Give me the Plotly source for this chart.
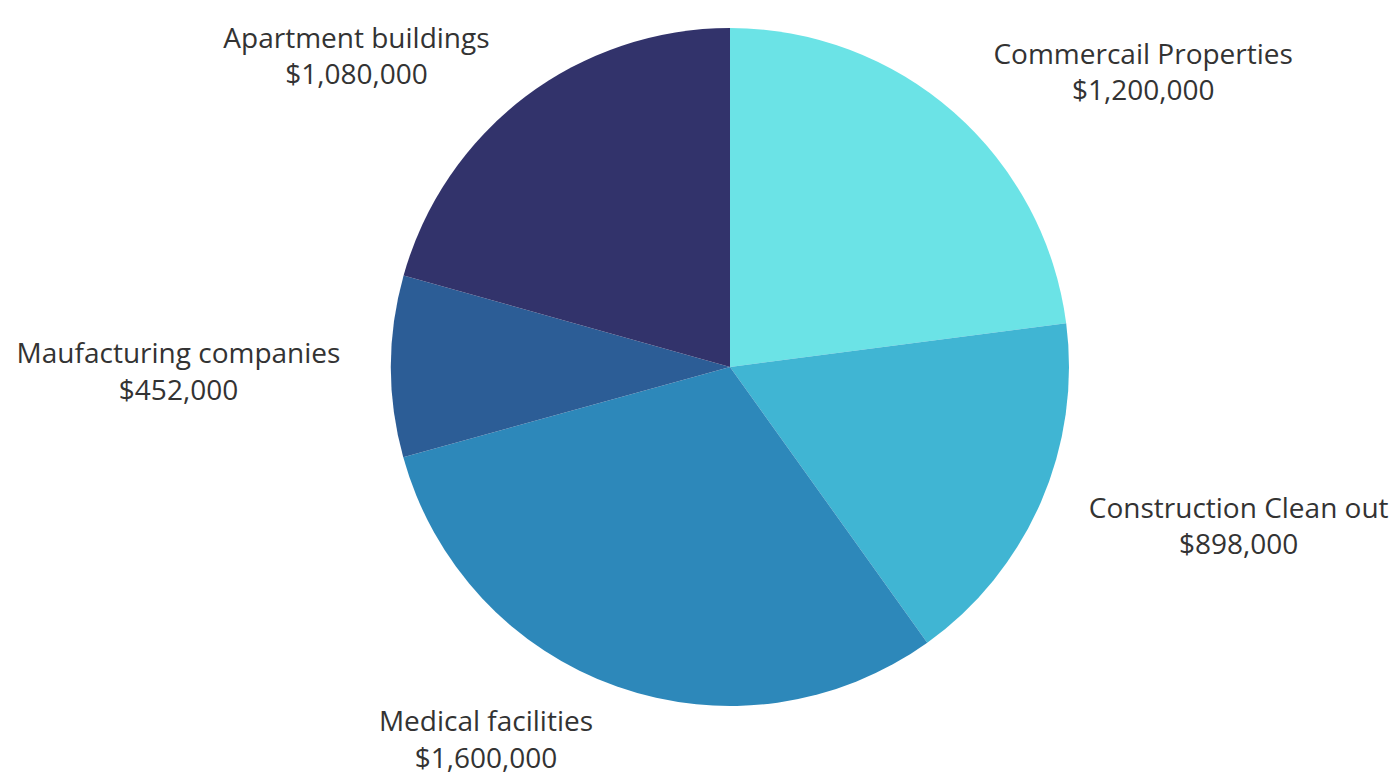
import plotly.graph_objects as go

categories = ["Commercail Properties", "Construction Clean out", "Medical facilities",
              "Maufacturing companies", "Apartment buildings"]
values = [1200000, 898000, 1600000, 452000, 1080000]
colors = ["#6BE3E6", "#40B5D3", "#2D88BA", "#2C5D96", "#32336B"]
label_pull = [0.06, 0.06, 0.014, 0.06, 0.049]   # per-label outward offset of the text ring

W, H = 1392, 775
CX, CY = 730, 367          # pie centre in pixels (from top-left)
R_PIE = 339                # pie radius
CY_TEXT = 371              # centre of the invisible label ring
R_TEXT = 371               # radius of the invisible label ring


def domain(cx, cy, r):
    x0, x1 = (cx - r) / W, (cx + r) / W
    yb = H - cy
    y0, y1 = max(0.0, (yb - r) / H), min(1.0, (yb + r) / H)
    return dict(x=[x0, x1], y=[y0, y1])


fig = go.Figure()

# visible pie
fig.add_trace(go.Pie(
    labels=categories,
    values=values,
    sort=False,
    direction="clockwise",
    rotation=0,
    automargin=False,
    marker=dict(colors=colors, line=dict(width=0)),
    textinfo="none",
    showlegend=False,
    hoverinfo="label+value",
    domain=domain(CX, CY, R_PIE),
))

# transparent pie carrying the outside labels a bit further out
fig.add_trace(go.Pie(
    labels=categories,
    values=values,
    sort=False,
    direction="clockwise",
    rotation=0,
    automargin=False,
    pull=label_pull,
    marker=dict(colors=["rgba(0,0,0,0)"] * len(values), line=dict(width=0)),
    textposition="outside",
    texttemplate="%{label}<br>$%{value:,}",
    textfont=dict(family="Open Sans", size=28, color="#333333"),
    showlegend=False,
    hoverinfo="skip",
    domain=domain(CX, CY_TEXT, R_TEXT),
))

fig.update_layout(
    width=W, height=H,
    margin=dict(l=0, r=0, t=0, b=0),
    paper_bgcolor="white",
    plot_bgcolor="white",
)

# remove the browser's default 8px body margin so the figure fills the window
fig.write_html("out.html",
               config={"displayModeBar": False},
               post_script="document.body.style.margin='0';")
